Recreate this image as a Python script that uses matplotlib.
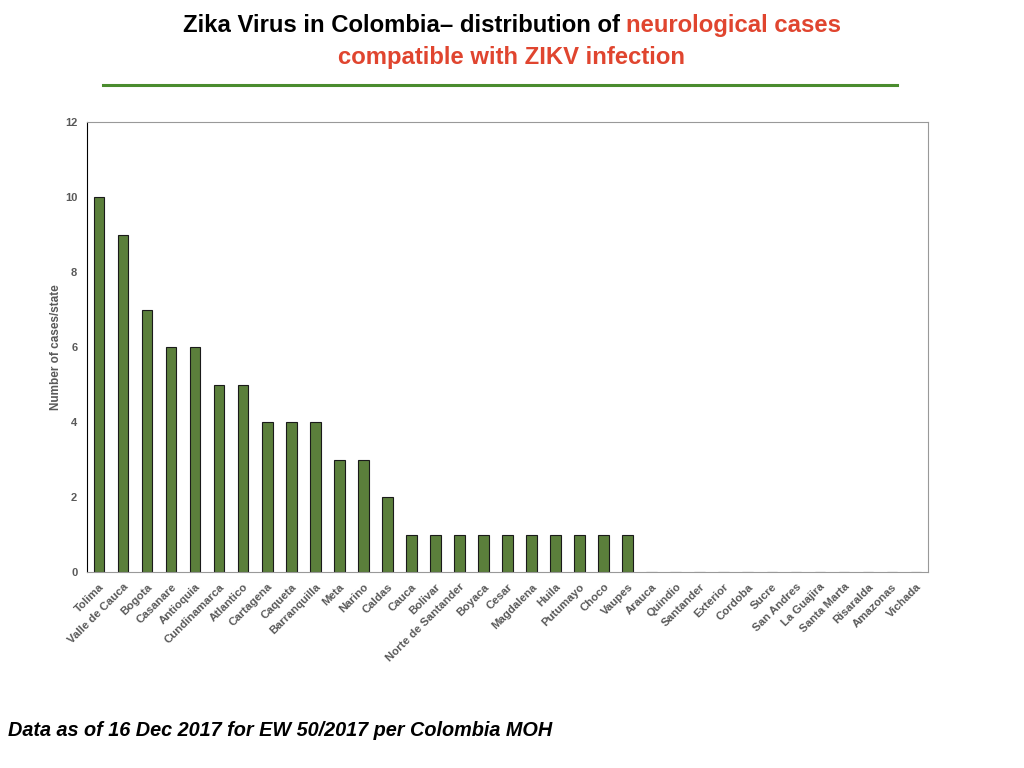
import matplotlib
matplotlib.use("Agg")
import matplotlib.pyplot as plt
from matplotlib.lines import Line2D

states = ["Tolima", "Valle de Cauca", "Bogota", "Casanare", "Antioquia",
          "Cundinamarca", "Atlantico", "Cartagena", "Caqueta", "Barranquilla",
          "Meta", "Narino", "Caldas", "Cauca", "Bolivar", "Norte de Santander",
          "Boyaca", "Cesar", "Magdalena", "Huila", "Putumayo", "Choco",
          "Vaupes", "Arauca", "Quindio", "Santander", "Exterior", "Cordoba",
          "Sucre", "San Andres", "La Guajira", "Santa Marta", "Risaralda",
          "Amazonas", "Vichada"]
cases = [10, 9, 7, 6, 6, 5, 5, 4, 4, 4, 3, 3, 2, 1, 1, 1, 1, 1, 1, 1, 1, 1,
         1, 0, 0, 0, 0, 0, 0, 0, 0, 0, 0, 0, 0]
yticks = [0, 2, 4, 6, 8, 10, 12]

plt.rcParams['font.family'] = ['Liberation Sans', 'DejaVu Sans']

fig = plt.figure(figsize=(10.24, 7.68), dpi=100)
ax = fig.add_axes([87 / 1024, 1 - 572 / 768, 841 / 1024, 450 / 768])

x = range(len(states))
ax.bar(x, cases, width=0.44, color='#5b7f3b', edgecolor='#1a1a1a', linewidth=0.8)
ax.set_xlim(-0.5, len(states) - 0.5)
ax.set_ylim(0, 12)
ax.set_yticks(yticks)
ax.set_xticks(list(x))
ax.set_xticklabels(states, rotation=45, ha='right', rotation_mode='anchor',
                   fontsize=8.2, fontweight='bold', color='#595959')
for lab in ax.get_yticklabels():
    lab.set_fontsize(8)
    lab.set_fontweight('bold')
    lab.set_color('#595959')
ax.tick_params(length=0, pad=7)
ax.set_ylabel("Number of cases/state", fontsize=8.5, fontweight='bold',
              color='#595959', labelpad=2)
ax.spines['left'].set_color('black')
for s in ['top', 'right', 'bottom']:
    ax.spines[s].set_color('#999999')

# title in two colours, centred
fig.canvas.draw()
r = fig.canvas.get_renderer()
t1 = fig.text(0, 1 - 32 / 768, "Zika Virus in Colombia\u2013 distribution of ",
              fontsize=17.2, fontweight='bold', color='black', va='baseline')
t2 = fig.text(0, 1 - 32 / 768, "neurological cases", fontsize=17.2,
              fontweight='bold', color='#e0452f', va='baseline')
w1 = t1.get_window_extent(r).width
w2 = t2.get_window_extent(r).width
x0 = (1024 - (w1 + w2)) / 2
t1.set_x(x0 / 1024)
t2.set_x((x0 + w1) / 1024)
fig.text(0.5, 1 - 64 / 768, "compatible with ZIKV infection", fontsize=17.2,
         fontweight='bold', color='#e0452f', ha='center', va='baseline')

fig.add_artist(Line2D([103 / 1024, 897 / 1024], [1 - 85 / 768, 1 - 85 / 768],
                      color='#4a8c2e', linewidth=2.2))

fig.text(8 / 1024, 1 - 730 / 768,
         "Data as of 16 Dec 2017 for EW 50/2017 per Colombia MOH",
         fontsize=14.3, fontweight='bold', style='italic', color='black',
         va='center')

fig.savefig("out.png", dpi=100)
